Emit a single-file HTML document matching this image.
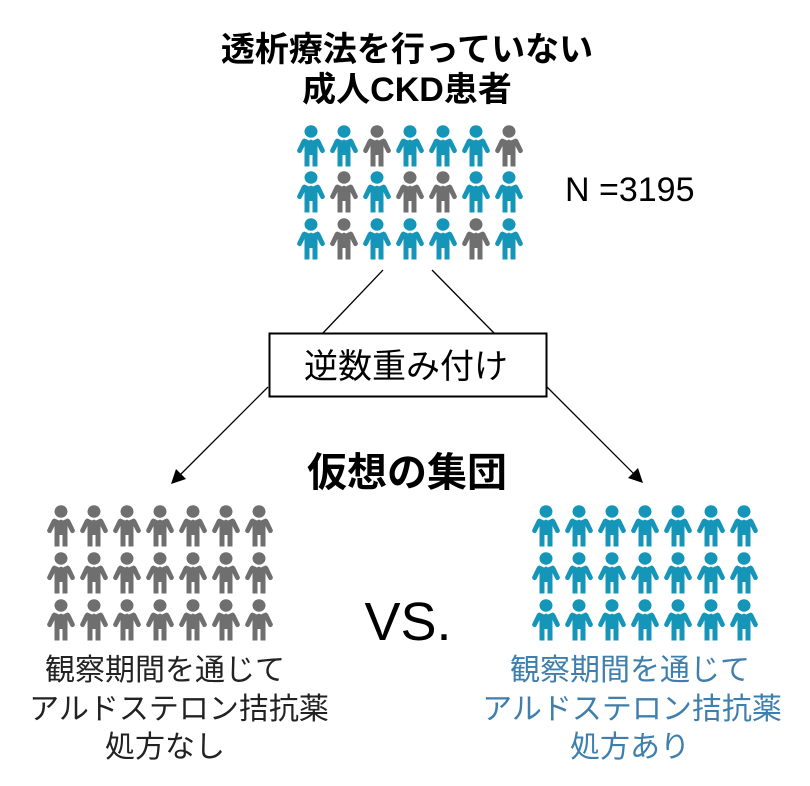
<!DOCTYPE html>
<html><head><meta charset="utf-8"><style>
html,body{margin:0;padding:0;background:#fff;}
svg{display:block}
text{font-family:"Liberation Sans","Noto Sans CJK JP",sans-serif;}
</style></head><body>
<svg width="810" height="786" viewBox="0 0 810 786" xmlns="http://www.w3.org/2000/svg">
<defs>
<symbol id="p" viewBox="0 0 28 42">
<ellipse cx="14" cy="6.5" rx="6.5" ry="6.2"/>
<path d="M7.5 13.5 L12 15.5 L14 14.5 L16 15.5 L20.5 13.5 Q22.5 13.8 23.5 16 L27.8 25 Q28.2 27.2 26 28 Q24.5 28.5 23.5 27 L20.5 21 V41.5 H15.5 V30 H12.5 V41.5 H7.5 V21 L4.5 27 Q3.5 28.5 2 28 Q-0.2 27.2 0.2 25 L4.5 16 Q5.5 13.8 7.5 13.5 Z"/>
</symbol>
</defs>
<text x="407" y="61" font-size="34" font-weight="bold" text-anchor="middle">透析療法を行っていない</text>
<text x="407" y="101" font-size="34" font-weight="bold" text-anchor="middle">成人CKD患者</text>
<text x="565" y="201" font-size="34">N =3195</text>
<line x1="383" y1="270" x2="323" y2="333" stroke="#000" stroke-width="1.3"/>
<line x1="432" y1="270" x2="494" y2="333" stroke="#000" stroke-width="1.3"/>
<rect x="269.5" y="333.5" width="277" height="63" fill="#fff" stroke="#000" stroke-width="2"/>
<text x="406" y="378" font-size="34" text-anchor="middle">逆数重み付け</text>
<line x1="268" y1="387" x2="176" y2="479" stroke="#000" stroke-width="1.3"/>
<path d="M171 484 L176 469 L186 479 Z" fill="#000"/>
<line x1="547" y1="387" x2="638" y2="478" stroke="#000" stroke-width="1.3"/>
<path d="M643 483 L628 478 L638 468 Z" fill="#000"/>
<text x="407" y="486" font-size="40" font-weight="bold" text-anchor="middle">仮想の集団</text>
<text x="408" y="640" font-size="54" text-anchor="middle">VS.</text>
<g font-size="30" text-anchor="middle" fill="#222">
<text x="165" y="680">観察期間を通じて</text>
<text x="179" y="719">アルドステロン拮抗薬</text>
<text x="165" y="757">処方なし</text>
</g>
<g font-size="30" text-anchor="middle" fill="#3f7fae">
<text x="630" y="680">観察期間を通じて</text>
<text x="632" y="719">アルドステロン拮抗薬</text>
<text x="630" y="757">処方あり</text>
</g>
<g fill="#1596b8">
<use href="#p" x="297" y="125" width="28" height="42"/>
<use href="#p" x="330" y="125" width="28" height="42"/>
<use href="#p" x="396" y="125" width="28" height="42"/>
<use href="#p" x="429" y="125" width="28" height="42"/>
<use href="#p" x="462" y="125" width="28" height="42"/>
<use href="#p" x="297" y="171" width="28" height="42"/>
<use href="#p" x="363" y="171" width="28" height="42"/>
<use href="#p" x="462" y="171" width="28" height="42"/>
<use href="#p" x="495" y="171" width="28" height="42"/>
<use href="#p" x="297" y="218" width="28" height="42"/>
<use href="#p" x="363" y="218" width="28" height="42"/>
<use href="#p" x="396" y="218" width="28" height="42"/>
<use href="#p" x="429" y="218" width="28" height="42"/>
<use href="#p" x="495" y="218" width="28" height="42"/>
</g>
<g fill="#6f6f6f">
<use href="#p" x="363" y="125" width="28" height="42"/>
<use href="#p" x="495" y="125" width="28" height="42"/>
<use href="#p" x="330" y="171" width="28" height="42"/>
<use href="#p" x="396" y="171" width="28" height="42"/>
<use href="#p" x="429" y="171" width="28" height="42"/>
<use href="#p" x="330" y="218" width="28" height="42"/>
<use href="#p" x="462" y="218" width="28" height="42"/>
</g>
<g id="L" fill="#6f6f6f"></g>
<g id="R" fill="#1596b8"></g>
</svg>
<script>
var ns="http://www.w3.org/2000/svg";
function grid(id,x0){var g=document.getElementById(id);var ys=[505,552,599];
for(var r=0;r<3;r++)for(var c=0;c<7;c++){var u=document.createElementNS(ns,"use");
u.setAttribute("href","#p");u.setAttribute("x",x0+c*33);u.setAttribute("y",ys[r]);
u.setAttribute("width",28);u.setAttribute("height",42);g.appendChild(u);}}
grid("L",47);grid("R",532);
</script>
</body></html>
